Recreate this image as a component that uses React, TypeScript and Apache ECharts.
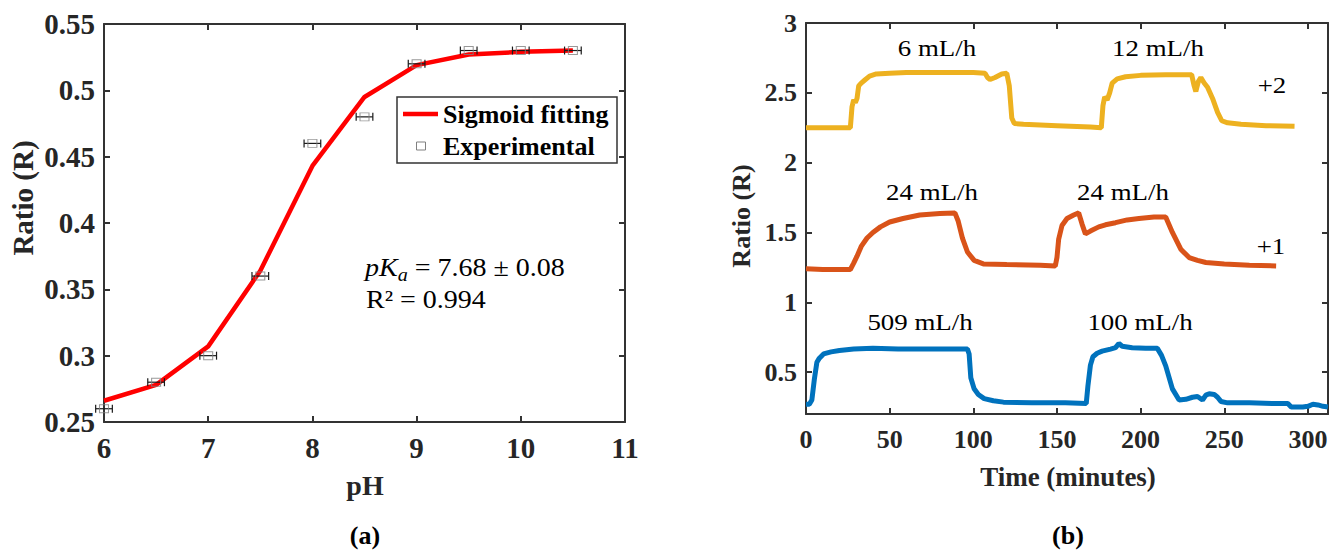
import React, { useEffect, useRef } from "react";
import * as echarts from "echarts";

const FONT = "'Liberation Serif', 'Times New Roman', Times, serif";
const AXIS_COLOR = "#333333";
const LABEL_COLOR = "#262626";

// ---------- Panel (a) ----------
const phFit = [6, 6.5, 7, 7.5, 8, 8.5, 9, 9.5, 10, 10.5];
const ratioFit = [0.266, 0.278, 0.307, 0.364, 0.443, 0.495, 0.519, 0.527, 0.529, 0.53];
const phExp = [6, 6.5, 7, 7.5, 8, 8.5, 9, 9.5, 10, 10.5];
const ratioExp = [0.26, 0.28, 0.3, 0.36, 0.46, 0.48, 0.52, 0.53, 0.53, 0.53];
const phErr = [0.08, 0.08, 0.08, 0.08, 0.08, 0.08, 0.08, 0.08, 0.08, 0.08];
const phTicks = [6, 7, 8, 9, 10, 11];
const ratioTicksA = [0.25, 0.3, 0.35, 0.4, 0.45, 0.5, 0.55];

// ---------- Panel (b) ----------
const timeTicks = [0, 50, 100, 150, 200, 250, 300];
const ratioTicksB = [0.5, 1, 1.5, 2, 2.5, 3];

const yellowSeries: [number, number][] = [
  [0, 2.25], [10, 2.25], [20, 2.25], [26.5, 2.25], [27.5, 2.4], [28.5, 2.45], [29.5, 2.43],
  [30.5, 2.46], [31.5, 2.55], [33, 2.57], [35, 2.59], [38, 2.62], [42, 2.635], [50, 2.64],
  [60, 2.645], [80, 2.645], [100, 2.645], [107, 2.64], [108.5, 2.61], [110, 2.595], [113, 2.61],
  [117, 2.635], [120, 2.64], [121.5, 2.55], [123, 2.32], [124.5, 2.28], [130, 2.275], [150, 2.265],
  [170, 2.255], [176.5, 2.25], [177.5, 2.41], [178.5, 2.47], [180, 2.45], [181.5, 2.5], [183, 2.57],
  [186, 2.6], [191, 2.615], [200, 2.625], [215, 2.63], [230.5, 2.63], [232, 2.55], [233, 2.51],
  [234.5, 2.58], [236, 2.61], [238, 2.57], [240, 2.54], [243, 2.46], [246, 2.36], [248.5, 2.3],
  [252, 2.285], [260, 2.275], [275, 2.265], [292, 2.26],
];

const orangeSeries: [number, number][] = [
  [0, 1.24], [10, 1.235], [20, 1.235], [26.5, 1.235], [28.5, 1.28], [30.5, 1.33], [33, 1.4],
  [36.5, 1.46], [40, 1.5], [44.5, 1.54], [50, 1.575], [58, 1.6], [68, 1.625], [80, 1.635],
  [89, 1.64], [91, 1.58], [93.5, 1.46], [96.5, 1.36], [100.5, 1.3], [106, 1.275], [120, 1.27],
  [140, 1.265], [149, 1.26], [150, 1.32], [151, 1.45], [153, 1.55], [156, 1.6], [160, 1.625],
  [163, 1.64], [165, 1.56], [167, 1.49], [170, 1.51], [175, 1.54], [179, 1.555], [185, 1.57],
  [192, 1.59], [199, 1.6], [208, 1.61], [215, 1.61], [219, 1.5], [224, 1.38], [229, 1.32],
  [234, 1.3], [239, 1.285], [250, 1.275], [265, 1.265], [281, 1.26],
];

const blueSeries: [number, number][] = [
  [0, 0.27], [2, 0.27], [3.5, 0.3], [5, 0.45], [6.5, 0.57], [8, 0.6], [10.5, 0.63], [15, 0.645],
  [20, 0.655], [28.5, 0.665], [40, 0.67], [55, 0.665], [70, 0.665], [85, 0.665], [96.5, 0.665],
  [97.5, 0.63], [98.5, 0.46], [100.5, 0.38], [103, 0.34], [106.5, 0.31], [112, 0.295], [118, 0.285],
  [135, 0.28], [155, 0.28], [167.5, 0.275], [168.5, 0.4], [170, 0.55], [171.5, 0.61], [174, 0.635],
  [177, 0.65], [182, 0.665], [185, 0.675], [187, 0.705], [189, 0.685], [195, 0.675], [203, 0.67],
  [210, 0.67], [212.5, 0.62], [215, 0.545], [219, 0.38], [223, 0.3], [227, 0.305], [231, 0.32],
  [234, 0.325], [237, 0.3], [239, 0.335], [241, 0.345], [244, 0.34], [246, 0.32], [248, 0.29],
  [252, 0.28], [265, 0.28], [280, 0.275], [288, 0.275], [290, 0.25], [297, 0.25], [300, 0.255],
  [303, 0.27], [306, 0.265], [309, 0.255], [312, 0.25],
];

const flowLabels = [
  { text: "6 mL/h", x: 937, y: 48 },
  { text: "12 mL/h", x: 1158, y: 48 },
  { text: "+2", x: 1272, y: 85 },
  { text: "24 mL/h", x: 932, y: 192 },
  { text: "24 mL/h", x: 1123, y: 192 },
  { text: "+1", x: 1271, y: 246 },
  { text: "509 mL/h", x: 920, y: 322 },
  { text: "100 mL/h", x: 1140, y: 322 },
];

function mainAxisX(gridIndex: number, min: number, max: number, ticks: number[], fontSize: number, margin: number) {
  return {
    type: "value",
    gridIndex,
    min,
    max,
    position: "bottom",
    splitLine: { show: false },
    axisLine: { show: true, onZero: false, lineStyle: { color: AXIS_COLOR, width: 2 } },
    axisTick: { show: true, inside: true, length: 6, customValues: ticks, lineStyle: { color: AXIS_COLOR, width: 2 } },
    axisLabel: {
      show: true,
      customValues: ticks,
      margin,
      color: LABEL_COLOR,
      fontFamily: FONT,
      fontWeight: "bold",
      fontSize,
    },
  };
}

function mirrorAxisX(gridIndex: number, min: number, max: number, ticks: number[]) {
  return {
    type: "value",
    gridIndex,
    min,
    max,
    position: "top",
    splitLine: { show: false },
    axisLine: { show: true, onZero: false, lineStyle: { color: AXIS_COLOR, width: 2 } },
    axisTick: { show: true, inside: true, length: 6, customValues: ticks, lineStyle: { color: AXIS_COLOR, width: 2 } },
    axisLabel: { show: false },
  };
}

function mainAxisY(gridIndex: number, min: number, max: number, ticks: number[], fontSize: number, margin: number) {
  return {
    type: "value",
    gridIndex,
    min,
    max,
    position: "left",
    splitLine: { show: false },
    axisLine: { show: true, onZero: false, lineStyle: { color: AXIS_COLOR, width: 2 } },
    axisTick: { show: true, inside: true, length: 6, customValues: ticks, lineStyle: { color: AXIS_COLOR, width: 2 } },
    axisLabel: {
      show: true,
      customValues: ticks,
      margin,
      color: LABEL_COLOR,
      fontFamily: FONT,
      fontWeight: "bold",
      fontSize,
    },
  };
}

function mirrorAxisY(gridIndex: number, min: number, max: number, ticks: number[]) {
  return {
    type: "value",
    gridIndex,
    min,
    max,
    position: "right",
    splitLine: { show: false },
    axisLine: { show: true, onZero: false, lineStyle: { color: AXIS_COLOR, width: 2 } },
    axisTick: { show: true, inside: true, length: 6, customValues: ticks, lineStyle: { color: AXIS_COLOR, width: 2 } },
    axisLabel: { show: false },
  };
}

function textEl(text: string, x: number, y: number, fontSize: number, opts: any = {}) {
  return {
    type: "text",
    x,
    y,
    z: 100,
    rotation: opts.rotation || 0,
    scaleX: opts.scaleX || 1,
    style: {
      text,
      fill: opts.fill || "#000",
      font: `${opts.italic ? "italic " : ""}${opts.bold ? "bold " : ""}${fontSize}px ${FONT}`,
      align: opts.align || "center",
      verticalAlign: "middle",
    },
  };
}

export default function App() {
  const ref = useRef<HTMLDivElement>(null);

  useEffect(() => {
    if (!ref.current) return;
    const chart = echarts.init(ref.current, undefined, { renderer: "svg" });

    const errData = phExp.map((p, i) => [p, ratioExp[i], phErr[i]]);

    const option: any = {
      animation: false,
      backgroundColor: "#ffffff",
      grid: [
        { left: 104, top: 24, width: 521, height: 398 },
        { left: 806, top: 23, width: 522, height: 391 },
      ],
      xAxis: [
        mainAxisX(0, 6, 11, phTicks, 29, 11),
        mirrorAxisX(0, 6, 11, phTicks),
        mainAxisX(1, 0, 312, timeTicks, 26, 12),
        mirrorAxisX(1, 0, 312, timeTicks),
      ],
      yAxis: [
        mainAxisY(0, 0.25, 0.55, ratioTicksA, 29, 9),
        mirrorAxisY(0, 0.25, 0.55, ratioTicksA),
        mainAxisY(1, 0.2, 3, ratioTicksB, 26, 9),
        mirrorAxisY(1, 0.2, 3, ratioTicksB),
      ],
      series: [
        {
          name: "Sigmoid fitting",
          type: "line",
          xAxisIndex: 0,
          yAxisIndex: 0,
          data: phFit.map((p, i) => [p, ratioFit[i]]),
          symbol: "none",
          lineStyle: { color: "#ff0000", width: 4.5 },
          z: 3,
        },
        {
          name: "Error",
          type: "custom",
          xAxisIndex: 0,
          yAxisIndex: 0,
          encode: { x: 0, y: 1 },
          data: errData,
          z: 4,
          renderItem: (params: any, api: any) => {
            const x = api.value(0);
            const y = api.value(1);
            const e = api.value(2);
            const p1 = api.coord([x - e, y]);
            const p2 = api.coord([x + e, y]);
            const h = 4;
            const style = { stroke: "#1a1a1a", lineWidth: 1.2 };
            return {
              type: "group",
              children: [
                { type: "line", shape: { x1: p1[0], y1: p1[1], x2: p2[0], y2: p2[1] }, style },
                { type: "line", shape: { x1: p1[0], y1: p1[1] - h, x2: p1[0], y2: p1[1] + h }, style },
                { type: "line", shape: { x1: p2[0], y1: p2[1] - h, x2: p2[0], y2: p2[1] + h }, style },
              ],
            };
          },
        },
        {
          name: "Experimental",
          type: "scatter",
          xAxisIndex: 0,
          yAxisIndex: 0,
          data: phExp.map((p, i) => [p, ratioExp[i]]),
          symbol: "rect",
          symbolSize: [9, 8],
          itemStyle: { color: "rgba(0,0,0,0)", borderColor: "#808080", borderWidth: 1 },
          z: 5,
        },
        {
          name: "+2 series",
          type: "line",
          xAxisIndex: 2,
          yAxisIndex: 2,
          data: yellowSeries,
          symbol: "none",
          lineStyle: { color: "#EDB120", width: 5 },
        },
        {
          name: "+1 series",
          type: "line",
          xAxisIndex: 2,
          yAxisIndex: 2,
          data: orangeSeries,
          symbol: "none",
          lineStyle: { color: "#D95319", width: 5 },
        },
        {
          name: "base series",
          type: "line",
          xAxisIndex: 2,
          yAxisIndex: 2,
          data: blueSeries,
          symbol: "none",
          lineStyle: { color: "#0072BD", width: 5 },
        },
      ],
      graphic: [
        // legend of panel (a)
        {
          type: "rect",
          z: 90,
          shape: { x: 397, y: 97, width: 220, height: 66 },
          style: { fill: "#ffffff", stroke: "#333333", lineWidth: 1.5 },
        },
        {
          type: "line",
          z: 100,
          shape: { x1: 403, y1: 114, x2: 438, y2: 114 },
          style: { stroke: "#ff0000", lineWidth: 4.5 },
        },
        {
          type: "rect",
          z: 100,
          shape: { x: 416.5, y: 142, width: 9, height: 8 },
          style: { fill: "none", stroke: "#808080", lineWidth: 1 },
        },
        textEl("Sigmoid fitting", 443, 114, 26, { bold: true, align: "left" }),
        textEl("Experimental", 443, 146, 26, { bold: true, align: "left" }),
        // annotations panel (a)
        {
          type: "text",
          x: 365,
          y: 268,
          z: 100,
          scaleX: 1.12,
          style: {
            text: "{i|pK}{sub|a}{n| = 7.68 ± 0.08}",
            align: "left",
            verticalAlign: "middle",
            rich: {
              i: { fontFamily: FONT, fontStyle: "italic", fontSize: 25, lineHeight: 31, fill: "#000" },
              sub: { fontFamily: FONT, fontStyle: "italic", fontSize: 18, lineHeight: 18, verticalAlign: "bottom", fill: "#000" },
              n: { fontFamily: FONT, fontSize: 25, lineHeight: 31, fill: "#000" },
            },
          },
        },
        textEl("R² = 0.994", 366, 300, 25, { align: "left", scaleX: 1.12 }),
        // axis titles panel (a)
        textEl("pH", 365, 485, 28, { bold: true, fill: LABEL_COLOR }),
        textEl("Ratio (R)", 23, 198, 29, { bold: true, fill: LABEL_COLOR, rotation: Math.PI / 2 }),
        textEl("(a)", 365, 535, 26, { bold: true }),
        // axis titles panel (b)
        textEl("Time (minutes)", 1068, 477, 27, { bold: true, fill: LABEL_COLOR }),
        textEl("Ratio (R)", 741, 216, 26, { bold: true, fill: LABEL_COLOR, rotation: Math.PI / 2 }),
        textEl("(b)", 1068, 535, 26, { bold: true }),
        // flow-rate annotations panel (b)
        ...flowLabels.map((l) => textEl(l.text, l.x, l.y, 24, { scaleX: 1.12 })),
      ],
    };

    chart.setOption(option);
    return () => {
      chart.dispose();
    };
  }, []);

  return (
    <div
      ref={ref}
      style={{ position: "fixed", left: 0, top: 0, width: 1339, height: 550, background: "#fff" }}
    />
  );
}
